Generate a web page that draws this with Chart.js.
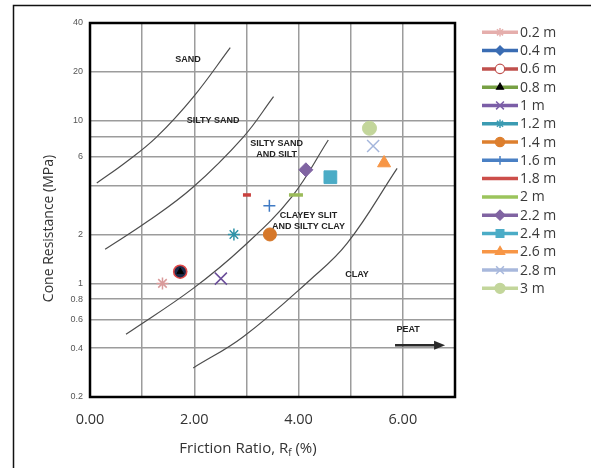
<!DOCTYPE html>
<html>
<head>
<meta charset="utf-8">
<script src="https://cdn.jsdelivr.net/npm/chart.js@4.4.1/dist/chart.umd.min.js"></script>
<style>
  html, body { margin: 0; padding: 0; background: #fff; }
  #wrap { position: relative; width: 591px; height: 468px; }
</style>
</head>
<body>
<div id="wrap"><canvas id="cptChart" width="591" height="468"></canvas></div>
<script>
// CPT readings by depth
const depths = ['0.2 m', '0.4 m', '0.6 m', '0.8 m', '1 m', '1.2 m', '1.4 m', '1.6 m',
                '1.8 m', '2 m', '2.2 m', '2.4 m', '2.6 m', '2.8 m', '3 m'];
const frictionRatio = [1.39, 1.73, 1.73, 1.73, 2.51, 2.76, 3.45, 3.44, 3.01, 3.95, 4.14, 4.61, 5.64, 5.43, 5.36];
const coneResistance = [1.0, 1.18, 1.18, 1.18, 1.07, 2.0, 2.0, 3.0, 3.5, 3.5, 5.0, 4.5, 5.5, 7.0, 9.0];

// zone boundary curves (friction ratio %, cone resistance MPa)
const sandBoundaryX = [0.13, 0.7, 1.28, 1.98, 2.69];
const sandBoundaryY = [4.14, 5.6, 7.97, 14.0, 28.2];
const siltySandBoundaryX = [0.29, 1.1, 1.98, 2.94, 3.52];
const siltySandBoundaryY = [1.62, 2.4, 3.92, 7.95, 14.1];
const siltBoundaryX = [0.69, 1.98, 2.94, 3.87, 4.57];
const siltBoundaryY = [0.486, 0.932, 1.68, 3.41, 7.62];
const clayBoundaryX = [1.98, 2.94, 4.22, 4.93, 5.89];
const clayBoundaryY = [0.302, 0.47, 1.05, 1.76, 5.1];

const xGrid = [0, 1, 2, 3, 4, 5, 6, 7];
const yGrid = [0.2, 0.4, 0.6, 0.8, 1, 2, 4, 6, 8, 10, 20, 40];
const yLabelled = [0.2, 0.4, 0.6, 0.8, 1, 2, 6, 10, 20, 40];

const legendColors = ['#e5aeac', '#3a6cb3', '#c0504d', '#77a043', '#7b5ea7', '#3b9bb2', '#dd7f2e', '#4a80c4',
                      '#cc4e4a', '#9bc45c', '#8064a2', '#4bacc6', '#f79646', '#a8b8dc', '#c3d69b'];
const markerColors = ['#d99a9a', '#1f3a6b', '#1c2a4a', '#000000', '#6b4e9a', '#2f93a8', '#d6782a', '#3f7ac4',
                      '#c9413e', '#9bbb59', '#8064a2', '#4bacc6', '#f79646', '#a4b6dc', '#c3d69b'];
const markerStyles = ['star', 'rectRot', 'circle', 'triangle', 'crossRot', 'star', 'circle', 'cross',
                      'line', 'line', 'rectRot', 'rect', 'triangle', 'crossRot', 'circle'];
const markerRadius = [6, 6.5, 6.5, 3.8, 8.5, 6, 6.5, 6, 4, 7, 7, 9, 7.5, 8.5, 7];

const zoneNames = [
  { text: 'SAND', x: 1.88, y: 23.7 },
  { text: 'SILTY SAND', x: 2.36, y: 10.1 },
  { text: 'SILTY SAND', x: 3.58, y: 7.27 },
  { text: 'AND SILT', x: 3.58, y: 6.24 },
  { text: 'CLAYEY SLIT', x: 4.19, y: 2.6 },
  { text: 'AND SILTY CLAY', x: 4.19, y: 2.23 },
  { text: 'CLAY', x: 5.12, y: 1.14 },
  { text: 'PEAT', x: 6.1, y: 0.517 }
];

const openMarkers = ['star', 'cross', 'crossRot', 'line'];

const datasets = depths.map((name, i) => {
  const open = openMarkers.includes(markerStyles[i]);
  return {
    label: name,
    data: [{ x: frictionRatio[i], y: coneResistance[i] }],
    showLine: false,
    pointStyle: markerStyles[i],
    pointRadius: markerRadius[i],
    pointHoverRadius: markerRadius[i],
    pointBackgroundColor: markerColors[i],
    pointBorderColor: i === 2 ? '#e04848' : markerColors[i],
    pointBorderWidth: markerStyles[i] === 'line' ? 3.5 : (open ? 1.5 : (i === 2 ? 1.6 : 1)),
    order: i === 1 ? 2 : (i === 2 ? 1 : 0)
  };
});

[[sandBoundaryX, sandBoundaryY], [siltySandBoundaryX, siltySandBoundaryY],
 [siltBoundaryX, siltBoundaryY], [clayBoundaryX, clayBoundaryY]].forEach(([bx, by]) => {
  datasets.push({
    label: '',
    data: bx.map((x, i) => ({ x: x, y: by[i] })),
    showLine: true,
    pointRadius: 0,
    pointHoverRadius: 0,
    borderColor: '#4d4d4d',
    borderWidth: 1.2,
    tension: 0.4,
    order: 10
  });
});

function drawMarker(ctx, style, radius, x, y) {
  if (Chart.helpers && Chart.helpers.drawPoint) {
    Chart.helpers.drawPoint(ctx, { pointStyle: style, radius: radius, borderWidth: ctx.lineWidth, rotation: 0 }, x, y);
  } else {
    ctx.beginPath();
    ctx.arc(x, y, radius, 0, Math.PI * 2);
    ctx.fill();
    ctx.stroke();
  }
}

const soilChartDecor = {
  id: 'soilChartDecor',
  beforeDraw(chart) {
    const ctx = chart.ctx;
    ctx.save();
    ctx.fillStyle = '#fff';
    ctx.fillRect(0, 0, chart.width, chart.height);
    ctx.strokeStyle = '#111';
    ctx.lineWidth = 1.5;
    ctx.beginPath();
    ctx.moveTo(13.5, chart.height);
    ctx.lineTo(13.5, 5.5);
    ctx.lineTo(chart.width, 5.5);
    ctx.stroke();
    ctx.restore();
  },
  beforeDatasetsDraw(chart) {
    const { ctx, chartArea: a, scales: { x, y } } = chart;
    ctx.save();
    ctx.font = 'bold 9px "Liberation Sans", Arial, sans-serif';
    ctx.fillStyle = '#222';
    ctx.textAlign = 'center';
    ctx.textBaseline = 'middle';
    zoneNames.forEach(z => ctx.fillText(z.text, x.getPixelForValue(z.x), y.getPixelForValue(z.y)));

    // peat arrow
    const ay = y.getPixelForValue(0.416);
    const ax0 = x.getPixelForValue(5.85);
    const ax1 = x.getPixelForValue(6.81);
    ctx.strokeStyle = '#2a2a2a';
    ctx.fillStyle = '#2a2a2a';
    ctx.lineWidth = 2.5;
    ctx.beginPath();
    ctx.moveTo(ax0, ay);
    ctx.lineTo(ax1 - 9, ay);
    ctx.stroke();
    ctx.beginPath();
    ctx.moveTo(ax1, ay);
    ctx.lineTo(ax1 - 11, ay - 4.5);
    ctx.lineTo(ax1 - 11, ay + 4.5);
    ctx.closePath();
    ctx.fill();

    ctx.strokeStyle = '#000';
    ctx.lineWidth = 2.5;
    ctx.strokeRect(a.left, a.top, a.right - a.left, a.bottom - a.top);
    ctx.restore();
  },
  afterDraw(chart) {
    const ctx = chart.ctx;
    ctx.save();

    // legend: line sample with the series marker in the middle
    ctx.font = '14px "Open Sans", sans-serif';
    ctx.textBaseline = 'middle';
    ctx.textAlign = 'left';
    depths.forEach((name, i) => {
      const ly = 32.3 + i * 18.29;
      ctx.strokeStyle = legendColors[i];
      ctx.lineWidth = 3.5;
      ctx.beginPath();
      ctx.moveTo(482, ly);
      ctx.lineTo(518, ly);
      ctx.stroke();
      if (markerStyles[i] !== 'line') {
        const open = openMarkers.includes(markerStyles[i]);
        ctx.fillStyle = i === 2 ? '#fff' : (i === 3 ? '#000' : legendColors[i]);
        ctx.strokeStyle = i === 3 ? '#000' : legendColors[i];
        ctx.lineWidth = open ? 1.5 : 1.2;
        const r = i === 3 ? 4 : Math.min(markerRadius[i] * 0.72, 5.5);
        drawMarker(ctx, markerStyles[i], r, 500, ly);
      }
      ctx.fillStyle = '#3a3a3a';
      ctx.fillText(name, 520, ly + 0.5);
    });

    // axis titles
    ctx.fillStyle = '#333';
    ctx.textBaseline = 'alphabetic';
    const main = 'Friction Ratio, R';
    const tail = ' (%)';
    ctx.font = '15px "Open Sans", sans-serif';
    const wMain = ctx.measureText(main).width;
    const wTail = ctx.measureText(tail).width;
    ctx.font = '10px "Open Sans", sans-serif';
    const wSub = ctx.measureText('f').width;
    let tx = 248 - (wMain + wSub + wTail) / 2;
    ctx.font = '15px "Open Sans", sans-serif';
    ctx.fillText(main, tx, 453);
    tx += wMain;
    ctx.font = '10px "Open Sans", sans-serif';
    ctx.fillText('f', tx, 456);
    tx += wSub;
    ctx.font = '15px "Open Sans", sans-serif';
    ctx.fillText(tail, tx, 453);

    ctx.translate(49, 228.5);
    ctx.rotate(-Math.PI / 2);
    ctx.textAlign = 'center';
    ctx.textBaseline = 'middle';
    ctx.font = '14px "Open Sans", sans-serif';
    ctx.fillText('Cone Resistance (MPa)', 0, 0);
    ctx.restore();
  }
};

new Chart(document.getElementById('cptChart'), {
  type: 'scatter',
  data: { datasets: datasets },
  options: {
    responsive: false,
    animation: false,
    layout: { padding: { left: 0, right: 136, top: 23, bottom: 41 } },
    plugins: {
      legend: { display: false },
      tooltip: { enabled: false }
    },
    scales: {
      x: {
        type: 'linear',
        min: 0,
        max: 7,
        afterBuildTicks: s => { s.ticks = xGrid.map(v => ({ value: v })); },
        afterFit: s => { s.height = 30; },
        grid: { color: '#9c9c9c', lineWidth: 1.5, drawTicks: false },
        border: { display: false },
        ticks: {
          autoSkip: false,
          maxRotation: 0,
          padding: 14,
          color: '#333',
          font: { family: 'Open Sans', size: 14.5 },
          callback: v => (v % 2 === 0 ? v.toFixed(2) : '')
        }
      },
      y: {
        type: 'logarithmic',
        min: 0.2,
        max: 40,
        afterBuildTicks: s => { s.ticks = yGrid.map(v => ({ value: v })); },
        afterFit: s => { s.width = 90; },
        grid: { color: '#9c9c9c', lineWidth: 1.5, drawTicks: false },
        border: { display: false },
        ticks: {
          autoSkip: false,
          padding: 7,
          color: '#555',
          font: { family: 'Liberation Sans', size: 9 },
          callback: v => (yLabelled.includes(v) ? String(v) : '')
        }
      }
    }
  },
  plugins: [soilChartDecor]
});
</script>
</body>
</html>
